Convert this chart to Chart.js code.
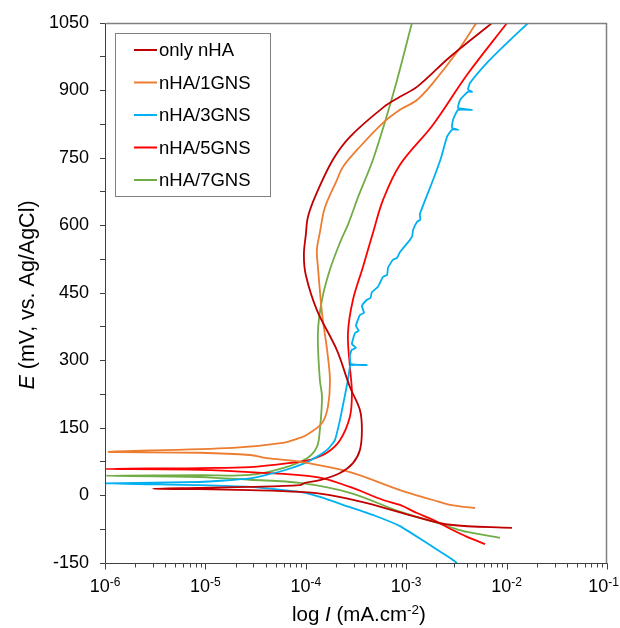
<!DOCTYPE html>
<html>
<head>
<meta charset="utf-8">
<script src="https://cdn.jsdelivr.net/npm/chart.js@4.4.1/dist/chart.umd.min.js"></script>
<style>
    html, body { margin: 0; padding: 0; background: #fff; }
    #wrap { width: 620px; height: 628px; position: relative; }
</style>
</head>
<body>
<div id="wrap"><canvas id="chart"></canvas></div>
<script>
// current density (mA/cm2) and potential (mV vs Ag/AgCl), cathodic end -> tip -> anodic end
var onlyNhaCurrent = [1.13e-2, 2.74e-3, 1.28e-3, 4.06e-4, 1.74e-4, 8.73e-5, 2.77e-5, 8.8e-6, 3.0e-6,
    8.8e-6, 2.77e-5, 8.73e-5, 9.8e-5, 1.38e-4, 2.19e-4, 2.95e-4, 3.46e-4, 3.62e-4, 3.46e-4, 2.75e-4,
    2.04e-4, 1.29e-4, 1.0e-4, 9.57e-5, 1.0e-4, 1.05e-4, 1.26e-4, 1.86e-4, 2.75e-4, 5.88e-4, 8.67e-4,
    1.28e-3, 2.74e-3, 7.16e-3];
var onlyNhaPotential = [-72, -65, -48, -17, 1, 8, 12, 14, 15,
    17, 19, 23, 28, 34, 50, 72, 101, 146, 190, 241,
    323, 412, 490, 535, 579, 619, 668, 746, 797, 862, 886,
    908, 975, 1050];

var gns1Current = [4.85e-3, 2.74e-3, 1.85e-3, 8.67e-4, 2.75e-4, 8.73e-5, 4.09e-5, 2.77e-5, 8.8e-6, 1.09e-6,
    1.87e-5, 5.91e-5, 8.73e-5, 1.03e-4, 1.45e-4, 1.66e-4, 1.74e-4, 1.63e-4, 1.45e-4, 1.32e-4,
    1.29e-4, 1.38e-4, 1.55e-4, 2.04e-4, 2.34e-4, 3.46e-4, 5.88e-4, 8.67e-4, 1.28e-3, 1.85e-3,
    3.22e-3, 4.99e-3];
var gns1Potential = [-28, -21, -10, 12, 52, 75, 83, 90, 95, 97,
    106, 117, 128, 135, 161, 197, 257, 323, 406, 508,
    546, 584, 640, 701, 730, 775, 828, 857, 879, 917,
    986, 1050];

var gns3Current = [3.21e-3, 2.74e-3, 1.54e-3, 8.67e-4, 4.89e-4, 2.75e-4, 1.38e-4, 8.73e-5, 2.77e-5, 8.8e-6, 1.02e-6,
    8.8e-6, 2.77e-5, 5.91e-5, 9.79e-5, 1.29e-4, 1.66e-4, 1.95e-4, 2.19e-4, 2.40e-4, 2.63e-4, 2.75e-4,
    2.82e-4, 4.06e-4, 2.82e-4, 2.75e-4, 2.88e-4, 3.16e-4, 2.88e-4, 3.09e-4, 3.36e-4, 3.16e-4,
    3.46e-4, 3.80e-4, 3.62e-4, 4.06e-4, 4.40e-4, 4.56e-4, 5.24e-4, 5.88e-4, 6.45e-4, 6.59e-4,
    7.38e-4, 8.10e-4, 8.67e-4, 1.09e-3, 1.15e-3, 1.17e-3, 1.28e-3, 1.38e-3, 1.37e-3, 1.85e-3,
    2.22e-3, 2.55e-3, 2.86e-3, 3.29e-3, 2.86e-3, 2.93e-3, 3.29e-3, 4.53e-3, 3.29e-3, 3.44e-3,
    4.13e-3, 4.53e-3, 4.13e-3, 4.33e-3, 6.40e-3, 1.01e-2, 1.64e-2];
var gns3Potential = [-150, -139, -103, -68, -45, -26, -3, 8, 19, 23, 27,
    30, 38, 55, 72, 86, 103, 123, 168, 212, 257, 286,
    290, 290, 292, 312, 324, 328, 337, 361, 366, 377,
    401, 406, 421, 435, 439, 452, 464, 486, 490, 506,
    524, 528, 541, 568, 577, 590, 608, 613, 626, 701,
    750, 797, 813, 813, 817, 835, 857, 857, 861, 879,
    897, 897, 902, 917, 962, 1006, 1050];

var gns5Current = [6.10e-3, 4.04e-3, 2.74e-3, 1.85e-3, 1.28e-3, 8.67e-4, 5.88e-4, 2.75e-4, 1.29e-4, 2.77e-5, 8.8e-6, 1.02e-6,
    8.8e-6, 2.77e-5, 8.73e-5, 1.10e-4, 1.62e-4, 2.19e-4, 2.75e-4, 2.88e-4, 2.75e-4, 2.63e-4,
    2.95e-4, 3.71e-4, 4.67e-4, 5.88e-4, 8.67e-4, 1.85e-3, 4.04e-3, 1.01e-2];
var gns5Potential = [-108, -92, -74, -54, -39, -21, -10, 19, 41, 52, 57, 59,
    61, 63, 75, 79, 95, 123, 175, 228, 286, 361,
    435, 508, 584, 657, 735, 824, 935, 1050];

var gns7Current = [8.6e-3, 4.04e-3, 2.74e-3, 1.85e-3, 8.67e-4, 2.75e-4, 8.73e-5, 2.77e-5, 8.8e-6, 1.02e-6,
    8.8e-6, 2.77e-5, 5.91e-5, 1.03e-4, 1.29e-4, 1.38e-4, 1.45e-4, 1.38e-4, 1.32e-4, 1.45e-4,
    1.74e-4, 2.19e-4, 2.63e-4, 3.38e-4, 4.73e-4, 7.61e-4, 1.14e-3];
var gns7Potential = [-94, -81, -70, -58, -36, 6, 28, 35, 41, 44,
    45, 46, 61, 83, 108, 146, 219, 257, 361, 435,
    502, 562, 602, 668, 750, 901, 1050];

var seriesLabels = ['only nHA', 'nHA/1GNS', 'nHA/3GNS', 'nHA/5GNS', 'nHA/7GNS'];
var seriesColors = ['#C00000', '#ED7D31', '#00B0F0', '#FF0000', '#70AD47'];
var decadeExponents = [-6, -5, -4, -3, -2, -1];

var FONT = '"Liberation Sans", Arial, sans-serif';

var toPoints = function (currents, potentials) {
        return currents.map(function (c, i) {
            return { x: c, y: potentials[i] };
        });
    },

    // draw a run of [text, font, dy] pieces starting at x
    drawPieces = function (ctx, pieces, x, y, align, maxRight) {
        var total = 0;

        pieces.forEach(function (p) {
            ctx.font = p[1];
            total += ctx.measureText(p[0]).width;
        });

        if (align === 'center') {
            x -= total / 2;
        }
        if (maxRight && x + total > maxRight) {
            x = maxRight - total;
        }

        ctx.textAlign = 'left';
        pieces.forEach(function (p) {
            ctx.font = p[1];
            ctx.fillText(p[0], x, y + (p[2] || 0));
            x += ctx.measureText(p[0]).width;
        });
    },

    decorPlugin = {
        id: 'decor',
        afterDraw: function (chart) {
            var ctx = chart.ctx,
                area = chart.chartArea,
                xScale = chart.scales.x,
                left = area.left + 0.5,
                right = area.right - 0.5,
                top = area.top + 0.5,
                bottom = area.bottom + 0.5;

            ctx.save();

            // frame
            ctx.lineWidth = 1.5;
            ctx.strokeStyle = '#808080';
            ctx.beginPath();
            ctx.moveTo(left, top);
            ctx.lineTo(right, top);
            ctx.lineTo(right, bottom);
            ctx.stroke();

            ctx.lineWidth = 1;
            ctx.strokeStyle = '#404040';
            ctx.beginPath();
            ctx.moveTo(left, top);
            ctx.lineTo(left, bottom);
            ctx.lineTo(right + 1, bottom);
            ctx.stroke();

            // log ticks on x
            ctx.beginPath();
            decadeExponents.forEach(function (e) {
                var m, px;
                for (m = 1; m <= (e === -1 ? 1 : 9); m++) {
                    px = Math.round(xScale.getPixelForValue(m * Math.pow(10, e))) + 0.5;
                    ctx.moveTo(px, bottom);
                    ctx.lineTo(px, bottom + (m === 1 ? 6 : 4));
                }
            });
            ctx.stroke();

            ctx.fillStyle = '#000';
            ctx.textBaseline = 'alphabetic';

            decadeExponents.forEach(function (e) {
                var px = xScale.getPixelForValue(Math.pow(10, e));
                drawPieces(ctx, [
                    ['10', '18px ' + FONT, 0],
                    [String(e), '12px ' + FONT, -6]
                ], px, 592, 'center', 619);
            });

            // axis titles
            drawPieces(ctx, [
                ['log ', '20.5px ' + FONT, 0],
                ['I', 'italic 20.5px ' + FONT, 0],
                [' (mA.cm', '20.5px ' + FONT, 0],
                ['-2', '13.5px ' + FONT, -7],
                [')', '20.5px ' + FONT, 0]
            ], (area.left + area.right) / 2 + 3, 621, 'center');

            ctx.save();
            ctx.translate(33.5, 295);
            ctx.rotate(-Math.PI / 2);
            drawPieces(ctx, [
                ['E', 'italic 21.5px ' + FONT, 0],
                [' (mV, vs. Ag/AgCl)', '21.5px ' + FONT, 0]
            ], 0, 0, 'center');
            ctx.restore();

            // legend
            ctx.lineWidth = 1;
            ctx.strokeStyle = '#808080';
            ctx.strokeRect(115.5, 33.5, 155, 163);

            ctx.textBaseline = 'middle';
            seriesLabels.forEach(function (label, i) {
                var y = 50 + i * 32.5;
                ctx.strokeStyle = seriesColors[i];
                ctx.lineWidth = 2;
                ctx.beginPath();
                ctx.moveTo(134, y);
                ctx.lineTo(157, y);
                ctx.stroke();
                ctx.font = '18.5px ' + FONT;
                ctx.fillText(label, 159, y + 1);
            });

            ctx.restore();
        }
    },

    buildDatasets = function () {
        var pairs = [
            [onlyNhaCurrent, onlyNhaPotential],
            [gns1Current, gns1Potential],
            [gns3Current, gns3Potential],
            [gns5Current, gns5Potential],
            [gns7Current, gns7Potential]
        ];

        return pairs.map(function (pair, i) {
            return {
                label: seriesLabels[i],
                data: toPoints(pair[0], pair[1]),
                showLine: true,
                borderColor: seriesColors[i],
                backgroundColor: seriesColors[i],
                borderWidth: 1.8,
                pointRadius: 0,
                pointHoverRadius: 0,
                tension: i === 2 ? 0.15 : 0.35
            };
        });
    };

new Chart(document.getElementById('chart').getContext('2d'), {
    type: 'scatter',
    data: { datasets: buildDatasets() },
    options: {
        responsive: true,
        maintainAspectRatio: false,
        animation: false,
        events: [],
        layout: { padding: { top: 23, right: 13, left: 0, bottom: 0 } },
        plugins: {
            legend: { display: false },
            tooltip: { enabled: false }
        },
        scales: {
            x: {
                type: 'logarithmic',
                min: 1e-6,
                max: 1e-1,
                border: { display: false },
                grid: { display: false },
                ticks: { display: false },
                afterFit: function (scale) { scale.height = 65; }
            },
            y: {
                type: 'linear',
                min: -150,
                max: 1050,
                border: { display: false },
                grid: {
                    drawOnChartArea: false,
                    drawTicks: true,
                    tickLength: 5,
                    color: '#404040'
                },
                ticks: {
                    stepSize: 75,
                    autoSkip: false,
                    padding: 11,
                    color: '#000',
                    font: { family: FONT, size: 18 },
                    callback: function (value) {
                        return value % 150 === 0 ? String(value) : '';
                    }
                },
                afterFit: function (scale) { scale.width = 105; }
            }
        }
    },
    plugins: [decorPlugin]
});
</script>
</body>
</html>
